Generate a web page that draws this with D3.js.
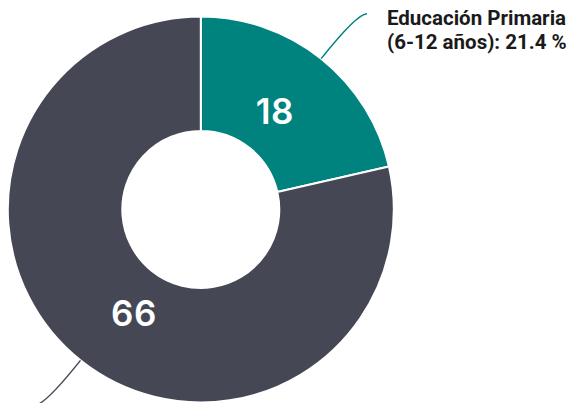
<!DOCTYPE html>
<html>
<head>
<meta charset="utf-8">
<script src="https://cdn.jsdelivr.net/npm/d3@7"></script>
<style>
html,body{margin:0;padding:0;background:#fff;}
svg{display:block;}
</style>
</head>
<body>
<svg id="chart" width="575" height="403"></svg>
<script>
const categories = ["Educación Primaria (6-12 años)", "Otros"];
const values = [18, 66];
const colors = ["#00827f", "#454754"];
const calloutLines = [["Educación Primaria", "(6-12 años): 21.4 %"], null];

const W = 575, H = 403;
const cx = 200.8, cy = 209.5;
const outerR = 193, innerR = 78.5, labelR = 123;

const svg = d3.select("#chart");
const g = svg.append("g").attr("transform", `translate(${cx},${cy})`);

const pie = d3.pie().sort(null).value(d => d.value);
const arcs = pie(values.map((v, i) => ({value: v, name: categories[i], color: colors[i], i})));

const arc = d3.arc().innerRadius(innerR).outerRadius(outerR);

g.selectAll("path.slice").data(arcs).enter().append("path")
  .attr("class", "slice")
  .attr("d", arc)
  .attr("fill", d => d.data.color)
  .attr("stroke", "#fff")
  .attr("stroke-width", 2)
  .attr("stroke-linejoin", "round");

function labelPos(d) {
  const a = (d.startAngle + d.endAngle) / 2 - 0.02 * (d.endAngle - d.startAngle);
  return [Math.sin(a) * labelR, -Math.cos(a) * labelR];
}

g.selectAll("text.val").data(arcs).enter().append("text")
  .attr("class", "val")
  .attr("transform", d => `translate(${labelPos(d)})`)
  .attr("text-anchor", "middle")
  .attr("dominant-baseline", "central")
  .attr("font-family", "Inter, sans-serif")
  .attr("font-weight", 600)
  .attr("font-size", 35)
  .attr("letter-spacing", 0.6)
  .attr("fill", "#fff")
  .text(d => d.data.value);

// leader lines
arcs.forEach(d => {
  const mid = (d.startAngle + d.endAngle) / 2;
  const sx = Math.sin(mid), sy = -Math.cos(mid);
  const x0 = sx * outerR, y0 = sy * outerR;
  const t = 57.5;
  const xc = x0 + sx * t, yc = y0 + sy * t;
  const hx = sx >= 0 ? 10 : -10;
  const p = d3.path();
  p.moveTo(x0, y0);
  p.quadraticCurveTo(xc, yc, xc + hx, yc);
  g.append("path")
    .attr("d", p.toString())
    .attr("fill", "none")
    .attr("stroke", d.data.color)
    .attr("stroke-width", 1.5);
  const lines = calloutLines[d.data.i];
  if (lines) {
    const tx = xc + hx + 20;
    const txt = g.append("text")
      .attr("font-family", "Roboto, sans-serif")
      .attr("font-weight", 700)
      .attr("font-size", 20.5)
      .attr("fill", "#1a1a1a");
    lines.forEach((ln, k) => {
      txt.append("tspan").attr("x", tx).attr("y", yc + 11.7 + k * 24).text(ln);
    });
  }
});
</script>
</body>
</html>
